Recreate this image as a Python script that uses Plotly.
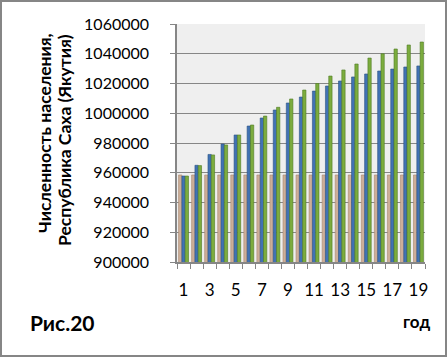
import plotly.graph_objects as go

years = list(range(1, 20))
tan_vals = [958500] * 19
blue_vals = [957800, 965000, 972300, 979300, 985400, 991400, 996800, 1002200, 1006900, 1010900,
             1014900, 1018300, 1021700, 1024400, 1026400, 1028400, 1029700, 1031100, 1031800]
green_vals = [957800, 964800, 972000, 978700, 985400, 992100, 998100, 1004000, 1009600, 1015600,
              1020000, 1025000, 1029100, 1033100, 1037100, 1040000, 1043200, 1045900, 1047900]
x_tick_vals = [1, 3, 5, 7, 9, 11, 13, 15, 17, 19]
y_tick_vals = [900000, 920000, 940000, 960000, 980000, 1000000, 1020000, 1040000, 1060000]
y_tick_text = [str(v) for v in y_tick_vals]

FONT = "Lato"
GRID = "#868686"

fig = go.Figure()
for vals, col, edge in [(tan_vals, "#cdae98", "#a8876f"),
                        (blue_vals, "#4172b4", "#2c5282"),
                        (green_vals, "#7cac3e", "#4e7a22")]:
    fig.add_trace(go.Bar(x=years, y=vals, marker=dict(color=col, line=dict(color=edge, width=0.6)),
                         showlegend=False, hoverinfo="skip"))

L, R, T, B = 177, 425, 24, 262
W, H = 448, 358
pw, ph = R - L, B - T

def px(x):
    return (x - L) / pw

def py(y):
    return (B - y) / ph

fig.update_layout(
    width=W, height=H,
    margin=dict(l=L, r=W - R, t=T, b=H - B, pad=0, autoexpand=False),
    paper_bgcolor="white",
    plot_bgcolor="#efefef",
    barmode="group", bargap=0.24, bargroupgap=0,
    font=dict(family=FONT, color="black"),
    xaxis=dict(range=[0.5, 19.5], tickmode="array", tickvals=x_tick_vals,
               ticks="", showgrid=False, showline=True, linecolor=GRID, linewidth=1.5,
               tickfont=dict(size=17, family=FONT), ticklabelstandoff=12,
               minor=dict(tick0=0.5, dtick=1, ticks="outside", ticklen=5, tickcolor=GRID,
                          tickwidth=1, showgrid=False),
               zeroline=False),
    yaxis=dict(range=[900000, 1060000], tickmode="array", tickvals=y_tick_vals, ticktext=y_tick_text,
               ticks="outside", ticklen=5, tickcolor=GRID, tickwidth=1,
               showgrid=True, gridcolor=GRID, gridwidth=1,
               showline=True, linecolor=GRID, linewidth=1.5,
               tickfont=dict(size=16, family=FONT), ticklabelstandoff=18,
               zeroline=False),
)

fig.add_annotation(text="<b>Численность населения,</b>", x=px(44), y=py(133), xref="paper", yref="paper",
                   textangle=-90, showarrow=False, font=dict(size=17.5, family=FONT), xanchor="center", yanchor="middle")
fig.add_annotation(text="<b>Республика Саха (Якутия)</b>", x=px(64), y=py(140), xref="paper", yref="paper",
                   textangle=-90, showarrow=False, font=dict(size=17.5, family=FONT), xanchor="center", yanchor="middle")
fig.add_annotation(text="<b>Рис.20</b>", x=px(28), y=py(322), xref="paper", yref="paper",
                   showarrow=False, font=dict(size=21, family=FONT), xanchor="left", yanchor="middle")
fig.add_annotation(text="<b>год</b>", x=px(432), y=py(321), xref="paper", yref="paper",
                   showarrow=False, font=dict(size=17, family=FONT), xanchor="right", yanchor="middle")

fig.add_shape(type="rect", xref="paper", yref="paper",
              x0=px(1), x1=px(446), y0=py(356), y1=py(1),
              line=dict(color=GRID, width=2), fillcolor="rgba(0,0,0,0)", layer="above")

fig.write_html("out.html", config={"displayModeBar": False},
               post_script="document.body.style.margin='0';document.body.style.padding='0';")
